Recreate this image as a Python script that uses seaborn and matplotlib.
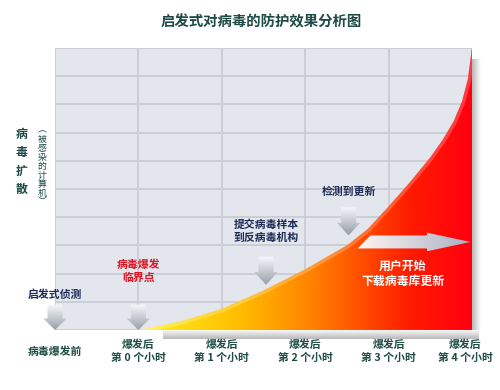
import matplotlib
matplotlib.use('Agg')

import numpy as np
import pandas as pd
import seaborn as sns
import matplotlib.pyplot as plt
from matplotlib.patches import PathPatch, Polygon
from matplotlib.colors import LinearSegmentedColormap


# curve: hours after outbreak vs. infected computers (grid units)
hours = [0, 0.5, 1, 1.5, 2, 2.5, 2.75, 3, 3.25, 3.5, 3.65, 3.78, 3.88, 3.95, 4.0]
spread = [0, 0.3, 0.75, 1.4, 2.15, 3.0, 3.58, 4.38, 5.22, 6.12, 6.75, 7.4, 8.1, 8.9, 10.0]

tick_pos = [-1, 0, 1, 2, 3, 3.92]
tick_labels = ['病毒爆发前', '爆发后\n第 0 个小时', '爆发后\n第 1 个小时',
               '爆发后\n第 2 个小时', '爆发后\n第 3 个小时', '爆发后\n第 4 个小时']

# event notes: text, x (hours), text y, arrow top y, arrow tip y
note_text = ['启发式侦测', '病毒爆发\n临界点', '提交病毒样本\n到反病毒机构', '检测到更新']
note_x = [-1, 0, 1.53, 2.52]
note_y = [1.25, 2.1, 3.5, 4.9]
arrow_top = [0.9, 0.9, 2.6, 4.35]
arrow_tip = [0.0, 0.0, 1.6, 3.35]
note_color = ['#1c2a55', '#e0101e', '#1c2a55', '#1c2a55']

sns.set_theme(style='white')
plt.rcParams['font.family'] = ['Noto Sans CJK SC', 'DejaVu Sans']

fig = plt.figure(figsize=(5, 3.9), dpi=100)
ax = fig.add_axes([0.11, 0.154, 0.834, 0.723])
ax.set_facecolor('#e3e7ed')

df = pd.DataFrame({'hours': hours, 'spread': spread})

# drop shadows of the area
sh_r = np.zeros((1, 20, 4))
sh_r[..., :3] = 0.45
sh_r[..., 3] = np.linspace(0.5, 0, 20)
ax.imshow(sh_r, extent=[4.0, 4.1, 0, 9.6], aspect='auto', zorder=2, clip_on=False)
sh_b = np.zeros((20, 1, 4))
sh_b[..., :3] = 0.45
sh_b[..., 3] = np.linspace(0, 0.5, 20)[:, None]
ax.imshow(sh_b, extent=[0.3, 4.08, -0.32, 0], aspect='auto', zorder=2, clip_on=False)

# gradient area under the curve
area = ax.fill_between(df['hours'], df['spread'], 0, color='none', lw=0)
clip = PathPatch(area.get_paths()[0], transform=ax.transData, fc='none', ec='none')
ax.add_patch(clip)
cmap = LinearSegmentedColormap.from_list('heat', [
    (0.0, '#fff070'), (0.08, '#ffe61a'), (0.3, '#ffbe00'), (0.52, '#ff8200'),
    (0.68, '#ff4a00'), (0.82, '#ff1a00'), (1.0, '#ff0010')])
grad = np.linspace(0, 1, 256)[None, :]
im = ax.imshow(grad, extent=[0, 4, 0, 10], aspect='auto', cmap=cmap, zorder=3)
im.set_clip_path(clip)

# glossy edge along the curve
sns.lineplot(data=df, x='hours', y='spread', color='white', lw=5, alpha=0.22,
             ax=ax, zorder=4, sort=False)
ax.lines[-1].set_clip_path(clip)

ax.set_xlim(-1, 4)
ax.set_ylim(0, 10)
ax.set_xticks(range(-1, 5))
ax.set_yticks(range(0, 11))
ax.set_xticklabels([])
ax.set_yticklabels([])
ax.set_xlabel('')
ax.set_ylabel('')
ax.tick_params(length=0)
ax.grid(True, color='#c9cdd3', lw=1.3)
ax.set_axisbelow(True)
for s in ax.spines.values():
    s.set_visible(False)


def gradient_patch(poly, img, extent, z):
    ax.add_patch(poly)
    g = ax.imshow(img, extent=extent, aspect='auto', zorder=z)
    g.set_clip_box(fig.bbox)
    g.set_clip_path(poly)


# down arrows
shaft = 0.09
head = 0.14
for x, top, tip in zip(note_x, arrow_top, arrow_tip):
    hl = (top - tip) * 0.45
    pts = [(x - shaft, top), (x + shaft, top), (x + shaft, tip + hl), (x + head, tip + hl),
           (x, tip), (x - head, tip + hl), (x - shaft, tip + hl)]
    poly = Polygon(pts, closed=True, fc='none', ec='none', transform=ax.transData,
                   clip_on=False)
    img = np.zeros((30, 1, 4))
    img[..., 0] = np.linspace(0.97, 0.60, 30)[:, None]
    img[..., 1] = np.linspace(0.97, 0.63, 30)[:, None]
    img[..., 2] = np.linspace(0.98, 0.67, 30)[:, None]
    img[..., 3] = 1
    gradient_patch(poly, img, [x - head, x + head, tip, top], 5)

# right arrow over the red area
yc = 3.12
pts = [(2.78, yc + 0.23), (3.46, yc + 0.23), (3.46, yc + 0.33), (3.98, yc),
       (3.46, yc - 0.33), (3.46, yc - 0.23), (2.63, yc - 0.23)]
poly = Polygon(pts, closed=True, fc='none', ec='none', transform=ax.transData)
img = np.zeros((1, 40, 4))
img[..., 0] = np.linspace(1.0, 0.66, 40)
img[..., 1] = np.linspace(1.0, 0.70, 40)
img[..., 2] = np.linspace(1.0, 0.78, 40)
img[..., 3] = np.linspace(0.95, 1.0, 40)
gradient_patch(poly, img, [2.63, 3.98, yc - 0.33, yc + 0.33], 5)

for t, x, y, c in zip(note_text, note_x, note_y, note_color):
    ax.text(x, y, t, ha='center', va='center', fontsize=7.8, fontweight='bold',
            color=c, linespacing=1.3, zorder=6, clip_on=False)

ax.text(3.17, 2.0, '用户开始\n下载病毒库更新', ha='center', va='center', fontsize=8.6,
        fontweight='bold', color='white', linespacing=1.2, zorder=6)

for x, t in zip(tick_pos, tick_labels):
    ax.text(x, -0.076, t, transform=ax.get_xaxis_transform(), ha='center', va='center',
            fontsize=7.8, fontweight='bold', color='#1d4c42', linespacing=1.35,
            clip_on=False)

fig.text(0.522, 1 - 22 / 390, '启发式对病毒的防护效果分析图', ha='center', va='center',
         fontsize=10.4, fontweight='bold', color='#1d4a44')
fig.text(0.044, 1 - 162 / 390, '\n'.join('病毒扩散'), ha='center', va='center',
         fontsize=8.6, fontweight='bold', color='#1d4a44', linespacing=1.55)
fig.text(0.084, 1 - 166 / 390, '\n'.join('︵被感染的计算机︶'), ha='center', va='center',
         fontsize=6.4, color='#1d4a44', linespacing=1.0)

fig.savefig('out.png', dpi=100, facecolor='white')
